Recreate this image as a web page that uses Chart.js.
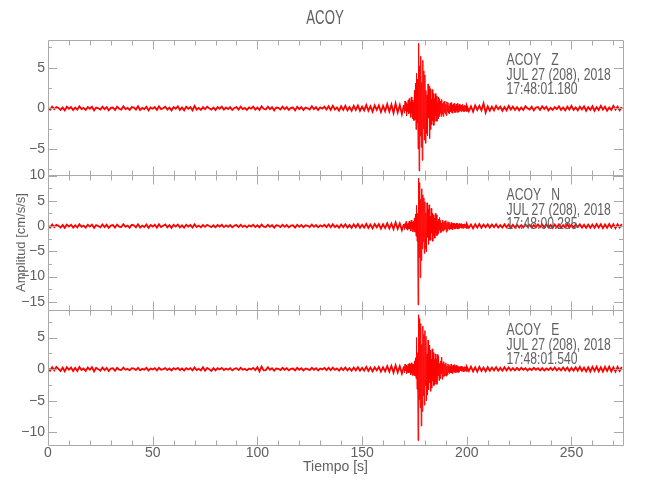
<!DOCTYPE html>
<html lang="es">
<head>
<meta charset="UTF-8">
<title>ACOY</title>
<style>
body { margin: 0; background: #ffffff; }
canvas { display: block; }
</style>
</head>
<body>
<canvas id="sismograma" width="650" height="500"></canvas>

<script src="https://cdn.jsdelivr.net/npm/chart.js@4"></script>
<script>
// Estacion y componentes
const estacion = 'ACOY';
const componentes = ['Z', 'N', 'E'];
const fecha = 'JUL 27 (208), 2018';
const horas = ['17:48:01.180', '17:48:00.285', '17:48:01.540'];

// Rejilla de muestreo (segundos)
const inicioRuido1 = 0, pasoRuido = 1;      // 0 .. 169 s
const inicioSismo = 170, pasoSismo = 0.25;  // 170 .. 199.75 s
const inicioRuido2 = 200;                   // 200 .. 274 s

// Limites de cada panel (cm/s/s) y del tiempo (s)
const limitesZ = [-8.2, 8.4];
const limitesN = [-16.6, 10.1];
const limitesE = [-12.0, 9.35];
const limiteTiempo = [0, 274.6];

// Componente Z
const ruidoZ1 = [0.1,-0.15,
  0.2,-0.1,0.15,0.05,-0.2,0.1,-0.25,0.2,-0.05,0.15,-0.2,0.1,
  -0.15,0.25,-0.1,0.05,-0.2,0.15,-0.05,0.2,-0.25,0.1,0.0,-0.15,
  0.2,-0.1,0.15,-0.25,0.05,0.1,-0.2,0.2,-0.05,-0.15,0.25,-0.1,
  0.05,-0.2,0.15,0.1,-0.15,0.25,-0.2,0.05,-0.1,0.2,-0.25,0.1,
  -0.05,0.15,-0.2,0.25,-0.1,0.0,0.2,-0.15,0.1,-0.25,0.15,-0.05,
  0.25,-0.2,0.1,-0.25,0.2,-0.05,0.15,-0.25,0.3,-0.15,0.05,-0.2,
  0.15,-0.1,0.2,0.0,-0.15,0.1,-0.2,0.15,-0.05,0.2,-0.15,0.1,
  -0.1,0.15,-0.2,0.05,0.15,-0.15,0.2,-0.1,0.05,-0.2,0.1,-0.05,
  0.2,-0.15,0.1,-0.2,0.25,-0.05,-0.15,0.2,-0.1,0.15,-0.25,0.1,
  0.05,-0.15,0.2,-0.1,0.15,-0.2,0.05,0.1,-0.25,0.2,-0.1,0.15,
  -0.2,0.1,0.0,-0.15,0.25,-0.1,0.15,-0.2,0.1,-0.05,0.2,-0.15,
  0.25,-0.2,0.3,-0.15,0.1,-0.3,0.25,-0.2,0.3,-0.25,0.15,-0.3,
  0.3,-0.2,0.35,-0.3,0.2,-0.25,0.4,-0.3,0.25,-0.4,0.35,-0.2,
  0.35,-0.45,0.3,-0.35,0.5,-0.4,0.45,-0.55,0.6,-0.5,0.4,-0.7];
const sismoZ = [0.4,-0.6,0.9,-0.3,0.7,-0.9,0.5,-0.4,1.0,-0.7,
  1.2,-0.5,0.8,-1.1,1.4,-0.6,1.0,-1.3,0.7,-1.5,
  2.2,-1.4,3.1,-2.6,4.3,-1.8,3.6,-5.0,8.0,-7.7,
  5.2,-3.4,6.4,-4.8,3.2,-6.4,5.9,-2.5,4.6,-3.9,
  4.1,-4.3,2.2,-3.1,1.6,-3.4,3.0,-1.2,2.7,-3.7,
  2.4,-2.6,1.1,-2.0,2.3,-1.5,1.8,-2.1,1.2,-1.6,
  1.8,-0.9,1.5,-1.6,0.7,-1.3,1.4,-1.0,1.2,-0.6,
  0.9,-1.0,1.1,-0.7,0.6,-1.0,0.8,-0.5,0.9,-0.7,
  0.5,-0.9,0.8,-0.4,0.7,-0.6,0.3,-0.7,0.6,-0.4,
  0.7,-0.5,0.4,-0.6,0.5,-0.3,0.6,-0.5,0.3,-0.5,
  0.5,-0.3,0.6,-0.5,0.3,-0.4,0.5,-0.3,0.4,-0.4,
  0.4,-0.3,0.5,-0.4,0.3,-0.4,0.4,-0.3,0.3,-0.35];
const ruidoZ2 = [0.3,-0.35,0.25,-0.4,0.35,-0.2,0.3,-0.25,0.6,-0.5,0.25,-0.3,
  0.2,-0.25,0.3,-0.1,0.2,-0.3,0.15,-0.25,0.3,-0.15,0.2,-0.2,
  0.15,-0.25,0.1,-0.2,0.25,0.0,-0.15,0.2,-0.25,0.1,0.15,-0.2,
  0.25,-0.1,0.2,-0.25,0.05,-0.2,0.15,-0.1,0.25,-0.2,0.1,-0.25,
  0.2,-0.15,0.3,-0.2,0.1,-0.25,0.2,-0.15,0.25,-0.3,0.15,-0.2,
  0.25,-0.3,0.15,-0.2,0.3,-0.15,0.2,-0.3,0.1,-0.2,0.3,-0.15,
  0.2,-0.25,0.15];

// Componente N
const ruidoN1 = [0.2,-0.3,
  0.3,-0.2,0.25,0.05,-0.3,0.2,-0.35,0.3,-0.1,0.25,-0.3,0.15,
  -0.25,0.35,-0.15,0.1,-0.3,0.25,-0.1,0.3,-0.35,0.2,0.0,-0.25,
  0.3,-0.2,0.25,-0.35,0.1,0.2,-0.3,0.3,-0.1,-0.2,0.35,-0.15,
  0.1,-0.3,0.25,0.15,-0.25,0.35,-0.3,0.1,-0.2,0.3,-0.35,0.2,
  -0.1,0.25,-0.3,0.35,-0.2,0.05,0.3,-0.25,0.2,-0.35,0.25,-0.1,
  0.3,-0.25,0.15,-0.3,0.25,-0.1,0.2,-0.3,0.35,-0.2,0.1,-0.25,
  0.2,-0.15,0.25,0.0,-0.2,0.15,-0.25,0.2,-0.1,0.25,-0.2,0.15,
  -0.15,0.2,-0.25,0.1,0.2,-0.2,0.25,-0.15,0.1,-0.25,0.15,-0.1,
  0.25,-0.2,0.15,-0.25,0.3,-0.1,-0.2,0.25,-0.15,0.2,-0.3,0.15,
  0.1,-0.2,0.25,-0.15,0.2,-0.25,0.1,0.15,-0.3,0.25,-0.15,0.2,
  -0.25,0.15,0.05,-0.2,0.3,-0.15,0.2,-0.25,0.15,-0.1,0.25,-0.2,
  0.3,-0.25,0.35,-0.2,0.15,-0.35,0.3,-0.25,0.35,-0.3,0.2,-0.35,
  0.35,-0.25,0.4,-0.35,0.25,-0.3,0.45,-0.35,0.3,-0.45,0.4,-0.25,
  0.4,-0.5,0.35,-0.4,0.55,-0.45,0.5,-0.6,0.7,-0.55,0.5,-0.8];
const sismoN = [0.4,-0.7,0.5,-0.3,0.9,-0.6,0.3,-0.8,0.6,-0.5,
  1.0,-0.6,0.8,-1.0,1.2,-0.5,0.8,-1.1,0.9,-0.7,
  1.6,-1.2,2.4,-2.0,4.1,-3.0,2.5,-15.6,9.5,-6.2,
  8.6,-10.2,5.3,-6.8,7.4,-4.5,6.2,-3.1,5.6,-5.4,
  4.8,-4.5,2.6,-5.1,4.6,-2.2,3.4,-3.6,4.2,-2.8,
  1.9,-2.8,3.5,-1.4,2.5,-3.0,2.2,-1.9,1.6,-2.4,
  2.5,-1.4,2.2,-1.9,1.0,-1.6,1.4,-0.8,1.7,-1.3,
  1.1,-1.2,0.6,-0.9,1.2,-1.0,0.8,-0.7,1.0,-0.6,
  1.1,-1.2,0.6,-0.9,0.9,-0.5,0.8,-0.7,0.4,-0.6,
  0.7,-0.6,0.5,-0.7,0.6,-0.4,0.5,-0.6,0.4,-0.5,
  0.6,-0.4,0.5,-0.6,0.3,-0.5,0.5,-0.3,0.4,-0.4,
  0.5,-0.4,0.35,-0.45,0.4,-0.3,0.45,-0.35,0.3,-0.4];
const ruidoN2 = [0.4,-0.35,0.3,-0.45,0.35,-0.3,0.4,-0.35,0.3,-0.25,0.35,-0.3,
  0.3,-0.25,0.35,-0.3,0.2,-0.3,0.35,-0.25,0.3,-0.35,0.25,-0.3,
  0.25,-0.3,0.2,-0.25,0.3,-0.15,0.25,-0.3,0.2,-0.25,0.3,-0.2,
  0.3,-0.25,0.35,-0.3,0.2,-0.35,0.3,-0.25,0.35,-0.3,0.2,-0.3,
  0.35,-0.3,0.25,-0.35,0.3,-0.2,0.35,-0.3,0.25,-0.35,0.3,-0.35,
  0.3,-0.35,0.4,-0.3,0.35,-0.4,0.3,-0.35,0.4,-0.3,0.35,-0.4,
  0.35,-0.3,0.4];

// Componente E
const ruidoE1 = [0.2,-0.25,
  0.3,-0.2,0.35,0.05,-0.3,0.25,-0.35,0.3,-0.1,0.25,-0.3,0.2,
  -0.3,0.35,-0.15,0.1,-0.3,0.25,-0.1,0.3,-0.35,0.2,0.0,-0.25,
  0.25,-0.15,0.2,-0.3,0.1,0.15,-0.25,0.2,-0.1,-0.15,0.25,-0.1,
  0.05,-0.2,0.15,0.1,-0.15,0.2,-0.2,0.05,-0.1,0.2,-0.2,0.1,
  -0.05,0.15,-0.2,0.2,-0.1,0.0,0.15,-0.15,0.1,-0.2,0.15,-0.05,
  0.2,-0.15,0.1,-0.2,0.15,-0.05,0.15,-0.2,0.25,-0.15,0.05,-0.2,
  0.3,-0.25,0.2,0.0,-0.3,0.15,-0.2,0.15,-0.05,0.2,-0.15,0.1,
  -0.1,0.15,-0.2,0.05,0.15,-0.15,0.2,-0.1,0.05,-0.2,0.1,-0.05,
  0.2,-0.15,0.3,-0.35,0.4,-0.2,-0.15,0.3,-0.1,0.15,-0.25,0.1,
  0.05,-0.15,0.2,-0.1,0.15,-0.2,0.05,0.1,-0.2,0.2,-0.1,0.15,
  -0.2,0.1,0.0,-0.15,0.2,-0.1,0.15,-0.2,0.1,-0.05,0.2,-0.15,
  0.2,-0.15,0.25,-0.1,0.1,-0.25,0.2,-0.15,0.25,-0.2,0.15,-0.25,
  0.25,-0.2,0.3,-0.25,0.2,-0.25,0.35,-0.3,0.25,-0.35,0.3,-0.2,
  0.35,-0.4,0.3,-0.35,0.45,-0.4,0.5,-0.55,0.6,-0.5,0.45,-0.7];
const sismoE = [0.4,-0.6,0.8,-0.3,0.6,-0.7,0.4,-0.5,0.8,-0.6,
  0.9,-0.5,0.7,-0.9,1.0,-0.6,0.8,-1.0,0.7,-0.8,
  1.3,-1.1,1.8,-1.5,5.0,-3.2,2.6,-11.3,8.6,-4.8,
  8.0,-6.1,7.2,-9.0,3.9,-6.7,6.8,-4.2,5.5,-5.7,
  6.1,-2.6,5.2,-5.0,2.4,-4.1,4.6,-3.3,3.8,-2.2,
  3.0,-3.5,1.6,-3.0,3.2,-1.9,2.6,-2.6,1.5,-2.4,
  2.4,-2.0,1.6,-2.4,2.3,-1.1,2.0,-1.8,0.9,-1.5,
  1.3,-0.7,1.9,-1.6,1.0,-1.2,1.2,-1.1,0.8,-1.0,
  1.0,-1.1,0.5,-0.9,0.8,-0.5,0.7,-0.7,0.4,-0.6,
  0.8,-0.6,0.5,-0.7,0.6,-0.4,0.7,-0.5,0.4,-0.6,
  0.6,-0.4,0.5,-0.5,0.3,-0.5,0.4,-0.3,0.4,-0.3,
  0.45,-0.35,0.4,-0.4,0.3,-0.35,0.4,-0.3,0.35,-0.3];
const ruidoE2 = [0.35,-0.3,0.4,-0.35,0.3,-0.4,0.35,-0.3,0.25,-0.35,0.3,-0.25,
  0.25,-0.2,0.3,-0.25,0.2,-0.25,0.3,-0.2,0.25,-0.2,0.15,-0.2,
  0.2,-0.15,0.2,-0.1,0.15,-0.2,0.1,-0.15,0.2,-0.1,0.15,-0.2,
  0.15,-0.2,0.1,-0.15,0.2,-0.15,0.25,-0.2,0.15,-0.2,0.25,-0.2,
  0.25,-0.3,0.2,-0.25,0.3,-0.25,0.35,-0.3,0.25,-0.35,0.3,-0.4,
  0.35,-0.3,0.4,-0.35,0.3,-0.4,0.35,-0.3,0.4,-0.35,0.3,-0.4,
  0.35,-0.3,0.35];

const ROJO = '#ff0000';
const GRIS_EJE = '#a9a9a9';
const GRIS_TEXTO = '#606060';
const FUENTE = '"Liberation Sans", Arial, sans-serif';

// junta los tres tramos de una componente en puntos {x, y}
function armarTraza(ruido1, sismo, ruido2) {
  const pts = [];
  ruido1.forEach((v, i) => pts.push({ x: inicioRuido1 + i * pasoRuido, y: v }));
  sismo.forEach((v, i) => pts.push({ x: inicioSismo + i * pasoSismo, y: v }));
  ruido2.forEach((v, i) => pts.push({ x: inicioRuido2 + i * pasoRuido, y: v }));
  return pts;
}

function etiquetaY(v) {
  return v < 0 ? '\u2212' + Math.abs(v) : String(v);
}

// texto estrecho, como la letra del sismograma original
function textoAngosto(ctx, texto, x, y, escala) {
  ctx.save();
  ctx.translate(x, y);
  ctx.scale(escala, 1);
  ctx.fillText(texto, 0, 0);
  ctx.restore();
}

function ejeY(limites, peso, titulo) {
  return {
    type: 'linear',
    position: 'left',
    stack: 'sismo',
    weight: peso,
    min: limites[0],
    max: limites[1],
    afterFit: s => { s.width = 48; },
    grid: { display: false, drawTicks: false },
    border: { display: false },
    ticks: {
      stepSize: 5,
      includeBounds: false,
      autoSkip: false,
      padding: 3,
      color: GRIS_TEXTO,
      font: { size: 14 },
      callback: etiquetaY
    },
    title: {
      display: !!titulo,
      text: titulo || '',
      color: GRIS_TEXTO,
      font: { size: 13 },
      padding: { top: 14, bottom: 0 }
    }
  };
}

// marco de cada panel con marcas hacia adentro + textos
const marcoPaneles = {
  id: 'marcoPaneles',
  afterDatasetsDraw(chart) {
    const { ctx, chartArea } = chart;
    const ejeX = chart.scales.x;
    const izq = chartArea.left, der = chartArea.right;
    ctx.save();
    ctx.strokeStyle = GRIS_EJE;
    ctx.lineWidth = 1;
    ['yZ', 'yN', 'yE'].forEach((id, k) => {
      const s = chart.scales[id];
      const arriba = Math.round(s.top) + 0.5, abajo = Math.round(s.bottom) + 0.5;
      ctx.beginPath();
      ctx.rect(Math.round(izq) + 0.5, arriba, Math.round(der - izq), abajo - arriba);
      // marcas en y cada 2.5
      for (let v = Math.ceil(s.min / 2.5) * 2.5; v <= s.max; v += 2.5) {
        const py = Math.round(s.getPixelForValue(v)) + 0.5;
        const largo = v % 5 === 0 ? 9 : 4;
        ctx.moveTo(izq, py); ctx.lineTo(izq + largo, py);
        ctx.moveTo(der, py); ctx.lineTo(der - largo, py);
      }
      // marcas en x cada 10 s
      for (let t = 10; t < ejeX.max; t += 10) {
        const px = Math.round(ejeX.getPixelForValue(t)) + 0.5;
        const largo = t % 50 === 0 ? 9 : 5;
        ctx.moveTo(px, arriba); ctx.lineTo(px, arriba + largo);
        ctx.moveTo(px, abajo); ctx.lineTo(px, abajo - largo);
      }
      ctx.stroke();

      // rotulo de la componente
      ctx.fillStyle = GRIS_TEXTO;
      ctx.font = '16px ' + FUENTE;
      ctx.textBaseline = 'middle';
      ctx.textAlign = 'left';
      const tx = ejeX.getPixelForValue(219);
      textoAngosto(ctx, estacion + '   ' + componentes[k], tx, s.top + 21, 0.76);
      textoAngosto(ctx, fecha, tx, s.top + 36, 0.76);
      textoAngosto(ctx, horas[k], tx, s.top + 50, 0.76);
    });

    // titulo
    ctx.fillStyle = GRIS_TEXTO;
    ctx.font = '20px ' + FUENTE;
    ctx.textAlign = 'center';
    ctx.textBaseline = 'middle';
    textoAngosto(ctx, estacion, chart.width / 2, 18, 0.66);
    ctx.restore();
  }
};

Chart.defaults.font.family = FUENTE;

new Chart(document.getElementById('sismograma'), {
  type: 'line',
  data: {
    datasets: [
      { label: 'Z', data: armarTraza(ruidoZ1, sismoZ, ruidoZ2), yAxisID: 'yZ' },
      { label: 'N', data: armarTraza(ruidoN1, sismoN, ruidoN2), yAxisID: 'yN' },
      { label: 'E', data: armarTraza(ruidoE1, sismoE, ruidoE2), yAxisID: 'yE' }
    ].map(d => Object.assign(d, {
      borderColor: ROJO,
      borderWidth: 1,
      pointRadius: 0,
      tension: 0,
      fill: false,
      // el ruido de fondo se ve como una banda gruesa
      segment: {
        borderWidth: c => (c.p0.parsed.x >= inicioSismo && c.p1.parsed.x < inicioRuido2) ? 1 : 1.8
      }
    }))
  },
  options: {
    responsive: false,
    animation: false,
    parsing: false,
    layout: { padding: { top: 40, right: 27, bottom: 15, left: 0 } },
    plugins: {
      legend: { display: false },
      tooltip: { enabled: false },
      title: { display: false }
    },
    scales: {
      x: {
        type: 'linear',
        position: 'bottom',
        min: limiteTiempo[0],
        max: limiteTiempo[1],
        afterFit: s => { s.height = 40; },
        grid: { display: false, drawTicks: false },
        border: { display: false },
        ticks: {
          stepSize: 50,
          includeBounds: false,
          maxRotation: 0,
          padding: 0,
          color: GRIS_TEXTO,
          font: { size: 14 }
        },
        title: {
          display: true,
          text: 'Tiempo [s]',
          color: GRIS_TEXTO,
          font: { size: 14 },
          padding: { top: 0, bottom: 9 }
        }
      },
      yZ: ejeY(limitesZ, 3),
      yN: ejeY(limitesN, 2, 'Amplitud [cm/s/s]'),
      yE: ejeY(limitesE, 1)
    }
  },
  plugins: [marcoPaneles]
});
</script>
</body>
</html>
